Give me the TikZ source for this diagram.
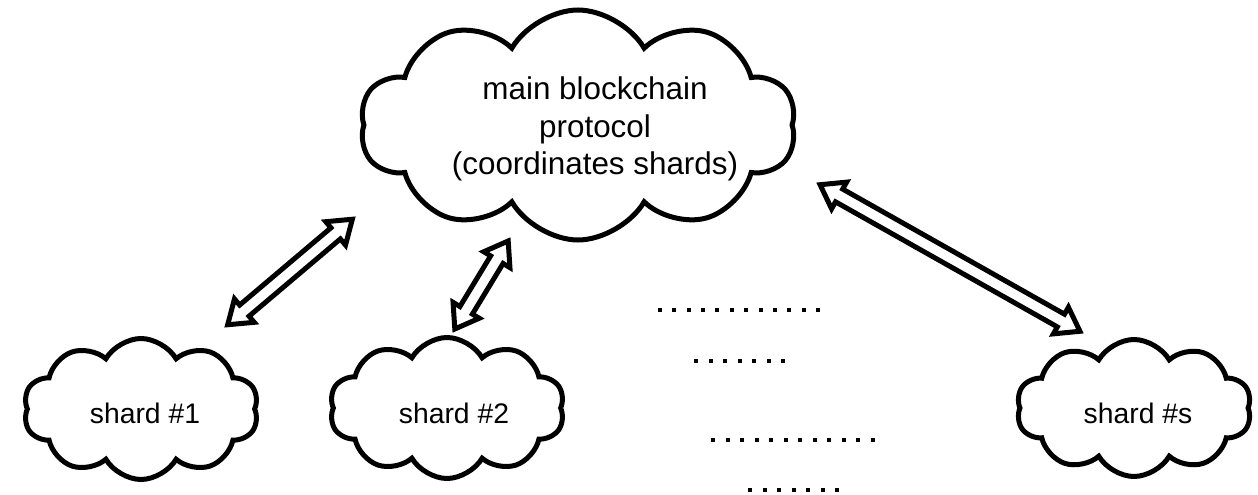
\documentclass[tikz,border=0pt]{standalone}
\usepackage{fontspec}
\setmainfont{Liberation Sans}
\usetikzlibrary{shapes.symbols,shapes.arrows,calc}
\begin{document}
\begin{tikzpicture}[x=1pt,y=-1pt,
  cloudbox/.style={cloud, draw, line width=5pt, cloud puffs=10, cloud puff arc=120, cloud ignores aspect, inner sep=0pt},
  bigtxt/.style={font=\fontsize{31.4}{37.6}\selectfont, align=center, inner sep=0pt},
  smalltxt/.style={font=\fontsize{28.3}{34}\selectfont, inner sep=0pt},
  bigarrow/.style={double arrow, draw, line width=5pt, fill=white, inner xsep=0pt, inner ysep=4.8pt,
    double arrow head extend=8pt, double arrow tip angle=70, double arrow head indent=0pt},
  blockarrow/.style={to path={let \p1=(\tikztostart),\p2=(\tikztotarget),
    \n1={atan2(\y2-\y1,\x2-\x1)},\n2={veclen(\x2-\x1,\y2-\y1)} in
    node[bigarrow, rotate=\n1, minimum height=\n2-7pt] at ($(\p1)!0.5!(\p2)$) {}}},
  dotsq/.style={fill=black, minimum size=4pt, inner sep=0pt, draw=none}
]
\useasboundingbox (0,0) rectangle (1258,495);
% clouds
\node[cloudbox, minimum width=436pt, minimum height=230pt] (main) at (578,125) {};
\node[bigtxt] (maintxt) at (595,129) {main blockchain\\protocol\\(coordinates shards)};
\node[cloudbox, minimum width=235pt, minimum height=141pt] (s1) at (141,409) {};
\node[smalltxt] (s1t) at (145,413) {shard \#1};
\node[cloudbox, minimum width=235pt, minimum height=141pt] (s2) at (447,408) {};
\node[smalltxt] (s2t) at (454,413) {shard \#2};
\node[cloudbox, minimum width=235pt, minimum height=137pt] (s3) at (1134,408) {};
\node[smalltxt] (s3t) at (1138,413) {shard \#s};
% arrow ends
\coordinate (a1) at (225,327); \coordinate (b1) at (355,217);
\coordinate (a2) at (453,332); \coordinate (b2) at (510,238);
\coordinate (a3) at (1083,333); \coordinate (b3) at (817,183);
\path (a1) to[blockarrow] (b1);
\path (a2) to[blockarrow] (b2);
\path (b3) to[blockarrow] (a3);
% dots
\foreach \y/\xa/\xb/\n in {310/660/818/11, 361/696/783/6, 440/713/873/11, 490/750/837/6}{
  \foreach \i in {0,...,\n}{
    \node[dotsq] at ({\xa+\i*(\xb-\xa)/\n},\y) {};
  }
}
\end{tikzpicture}
\end{document}
